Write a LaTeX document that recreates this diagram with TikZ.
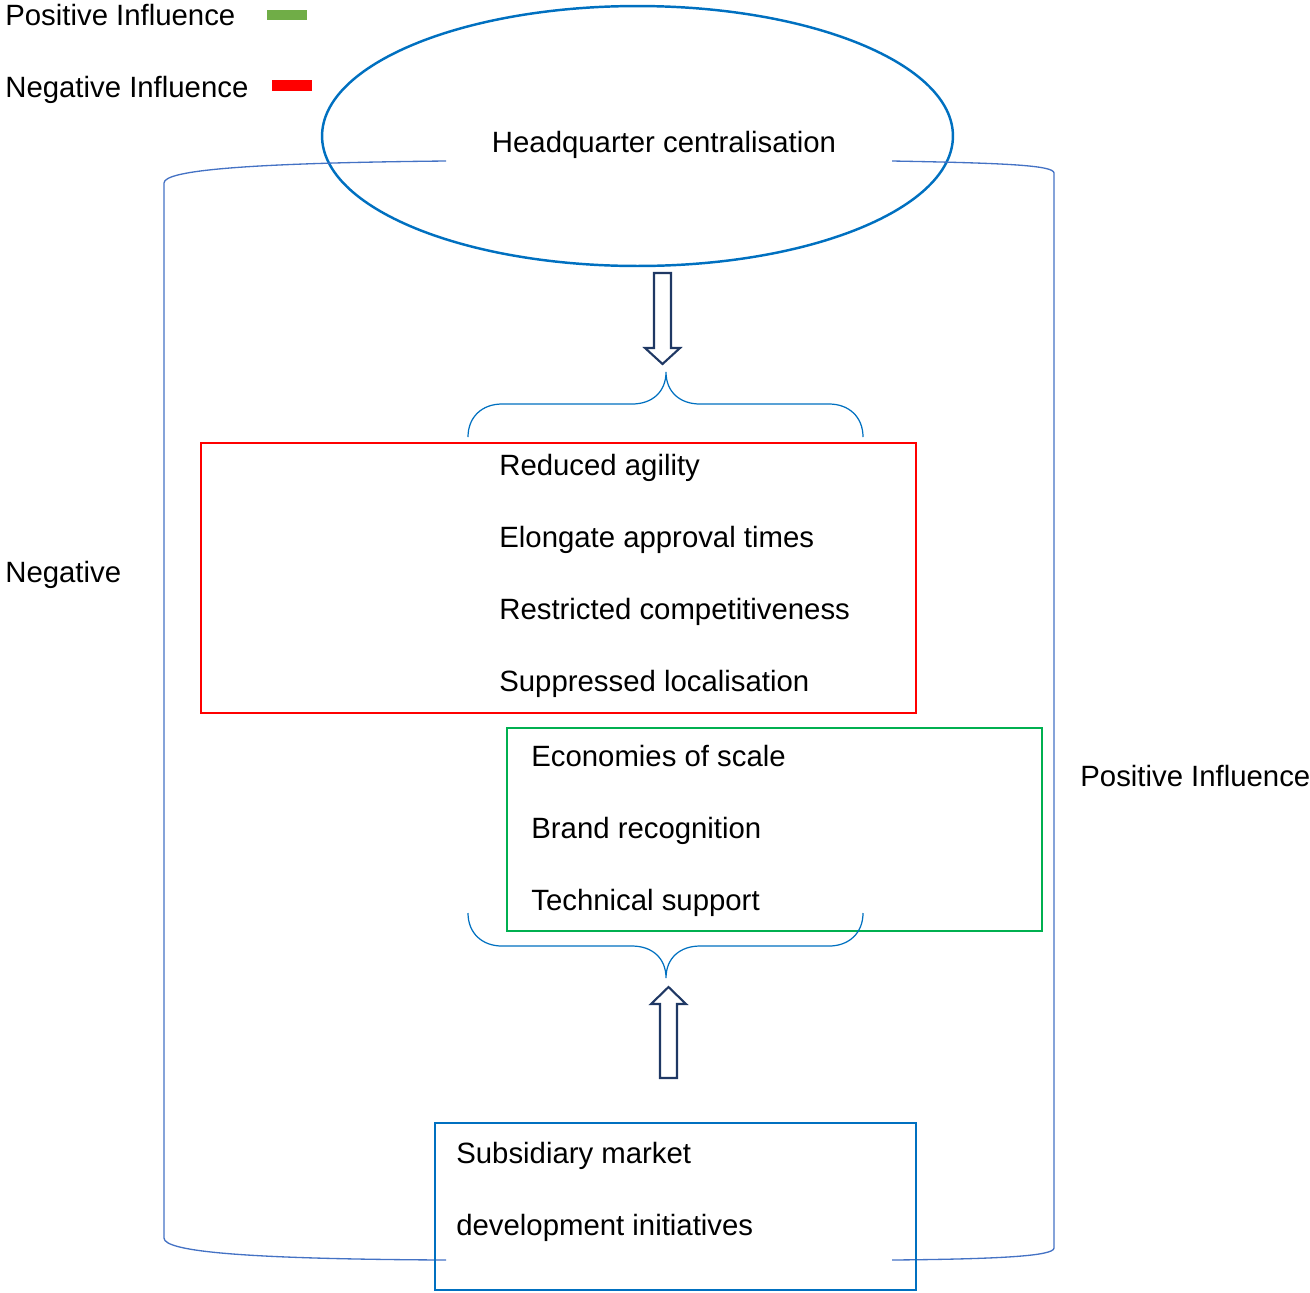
\documentclass[tikz,border=0pt]{standalone}
\usepackage{fontspec}
\setmainfont{Liberation Sans}
\usepackage{xcolor}
\usepackage{tikz}
\usetikzlibrary{
	shapes,positioning
}
\definecolor{hqblue}{HTML}{0070C0}
\definecolor{sideblue}{HTML}{4472C4}
\definecolor{navy}{HTML}{1F3864}
\definecolor{posgreen}{HTML}{00B050}
\definecolor{keygreen}{HTML}{70AD47}
\definecolor{negred}{HTML}{FF0000}

\begin{document}
\begin{tikzpicture}[x=0.02cm,y=-0.02cm,
	every node/.style={font=\fontsize{16.7}{20}\selectfont,inner sep=0pt},
	lbl/.style={anchor=base west},
	frame/.style={draw,line width=1.5pt,minimum width=#1},
	side/.style={draw=sideblue,line width=0.75pt},
	brace/.style={draw=hqblue,line width=0.7pt},
	block/.style={draw=navy,line width=1.2pt,fill=white,line join=miter}
	]
	\useasboundingbox (0,0) rectangle (1310,1292);
	% key
	\node[lbl] (KP) at (5,25) {Positive Influence};
	\node[lbl] (KN) at (5,97) {Negative Influence};
	\fill[keygreen] (267,10) rectangle (307,20);
	\fill[negred] (272,80) rectangle (312,91);
	%
	\node[lbl] (Neg) at (5,582) {Negative};
	\node[lbl] (Pos) at (1080,786) {Positive Influence};
	%
	\node[ellipse,draw=hqblue,line width=1.4pt,minimum width=12.62cm,minimum height=5.2cm] (HQ) at (637.5,136) {};
	\node[anchor=base] (HQt) at (664,152) {Headquarter centralisation};
	%
	\draw[side] (446,161) .. controls (250,163) and (164,170) .. (164,183) -- (164,1238) .. controls (164,1252) and (250,1259) .. (446,1260);
	\draw[side] (892,161) .. controls (1000,163) and (1054,165) .. (1054,173) -- (1054,1248) .. controls (1054,1256) and (1000,1259) .. (892,1260);
	%
	\draw[block] (654,273) -- (671,273) -- (671,348) -- (680,348) -- (662.5,364) -- (645,348) -- (654,348) -- cycle;
	\draw[brace] (468,437) .. controls (468,417) and (482,404) .. (502,404) -- (632,404) .. controls (652,404) and (666,392) .. (666,372)
		.. controls (666,392) and (680,404) .. (700,404) -- (829,404) .. controls (849,404) and (863,417) .. (863,437);
	%
	\node[frame=14.3cm,draw=negred,minimum height=5.4cm] (R) at (558.5,578) {};
	\node[lbl] (R1) at (499,475) {Reduced agility};
	\node[lbl] (R2) at (499,547) {Elongate approval times};
	\node[lbl] (R3) at (499,619) {Restricted competitiveness};
	\node[lbl] (R4) at (499,691) {Suppressed localisation};
	%
	\node[frame=10.7cm,draw=posgreen,minimum height=4.06cm] (G) at (774.5,829.5) {};
	\node[lbl] (G1) at (531,766) {Economies of scale};
	\node[lbl] (G2) at (531,838) {Brand recognition};
	\node[lbl] (G3) at (531,910) {Technical support};
	%
	\draw[brace] (468,913) .. controls (468,933) and (482,946) .. (502,946) -- (632,946) .. controls (652,946) and (666,958) .. (666,978)
		.. controls (666,958) and (680,946) .. (700,946) -- (829,946) .. controls (849,946) and (863,933) .. (863,913);
	\draw[block] (660,1078) -- (677,1078) -- (677,1004) -- (686,1004) -- (668.5,987) -- (651,1004) -- (660,1004) -- cycle;
	%
	\node[frame=9.62cm,draw=hqblue,minimum height=3.34cm] (S) at (675.5,1206.5) {};
	\node[lbl] (S1) at (456,1163) {Subsidiary market};
	\node[lbl] (S2) at (456,1235) {development initiatives};
\end{tikzpicture}
\end{document}
